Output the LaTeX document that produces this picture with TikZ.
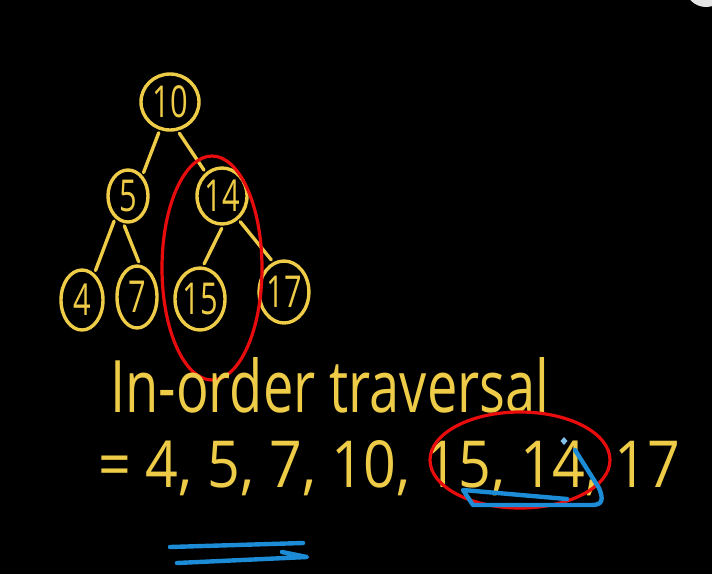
\documentclass[tikz,border=0pt]{standalone}
\usepackage{fontspec}
\setmainfont{Open Sans}
\usetikzlibrary{shapes.geometric}
\definecolor{chalkyellow}{RGB}{238,204,72}
\definecolor{penred}{RGB}{232,12,12}
\definecolor{penblue}{RGB}{28,140,214}
\newcommand{\keyfont}[1]{\scalebox{0.7}[1]{\fontsize{44}{44}\selectfont #1}}
\begin{document}
\begin{tikzpicture}[x=1pt,y=-1pt,line cap=round,line join=round,
	chalk/.style={draw=chalkyellow,line width=3.4pt},
	keynode/.style={chalk,ellipse,inner sep=0pt,text=chalkyellow},
	redring/.style={draw=penred,line width=3.2pt},
	bluepen/.style={draw=penblue,line width=4.4pt}]
	\fill[black] (0,0) rectangle (712,574);
	\begin{scope} \clip (0,0) rectangle (712,574); \fill[black!10] (706,-14) circle [radius=21]; \end{scope}
	\foreach \k/\x/\y/\w/\h in {10/170/102/58/56,5/128/196/40/52,14/222/196/50/56,4/82/300/42/60,7/137/297/40/62,15/200/299/50/62,17/284/292/48/62} \node[keynode,minimum width=\w pt,minimum height=\h pt] (n\k) at (\x,\y) {\keyfont{\k}};
	\foreach \a/\b in {n10.-110/n5.55,n10.-75/n14.125,n5.-120/n4.65,n5.-100/n7.85,n14.-88/n15.85,n14.-55/n17.110} \draw[chalk,shorten <=3pt,shorten >=3pt] (\a) -- (\b);
	\draw[redring] (212,268) ellipse [x radius=50,y radius=112];
	\node[text=chalkyellow,anchor=base west,inner sep=0pt] (title) at (110,412) {\resizebox{439pt}{55pt}{In-order traversal}};
	\node[text=chalkyellow,anchor=base west,inner sep=0pt] (order) at (98,487) {\resizebox{582pt}{47pt}{= 4, 5, 7, 10, 15, 14, 17}};
	\draw[redring] (520,460) ellipse [x radius=90,y radius=48];
	\draw[bluepen] (575,450) -- (599,488) .. controls (604,500) and (602,505) .. (592,505) -- (473,505) -- (463,490) -- (567,499);
	\fill[penblue!55!white] (564,437) -- (567.5,441) -- (564,445) -- (560.5,441) -- cycle;
	\draw[bluepen] (170,547) -- (303,543);
	\draw[bluepen] (177,563) -- (307,557) -- (282,552);
\end{tikzpicture}
\end{document}
